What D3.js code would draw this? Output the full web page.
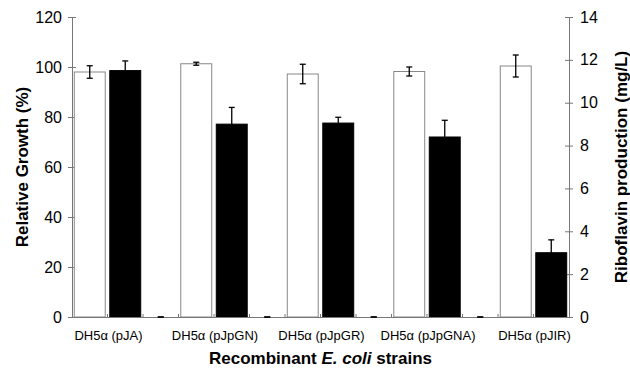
<!DOCTYPE html>
<html>
<head>
<meta charset="utf-8">
<script src="https://cdn.jsdelivr.net/npm/d3@7"></script>
<style>
  body { margin: 0; background: #fff; }
  svg { display: block; font-family: "Liberation Sans", Arial, sans-serif; }
</style>
</head>
<body>
<div id="chart"></div>
<script>
// strains on the x axis
const strains = ["DH5\u03b1 (pJA)", "DH5\u03b1 (pJpGN)", "DH5\u03b1 (pJpGR)", "DH5\u03b1 (pJpGNA)", "DH5\u03b1 (pJIR)"];
// relative growth (%), left axis, white bars
const growth    = [98.0, 101.3, 97.2, 98.2, 100.4];
const growthErr = [2.5, 0.6, 3.9, 1.8, 4.4];
// riboflavin production (mg/L), right axis, black bars
const ribo      = [11.5, 9.0, 9.05, 8.4, 3.0];
const riboErr   = [0.45, 0.78, 0.27, 0.78, 0.6];
const leftTicks  = [0, 20, 40, 60, 80, 100, 120];
const rightTicks = [0, 2, 4, 6, 8, 10, 12, 14];

const W = 630, H = 376;
const m = {top: 17, right: 61, bottom: 59, left: 72};
const innerW = W - m.left - m.right;
const innerH = H - m.top - m.bottom;

const svg = d3.select("#chart").append("svg")
  .attr("width", W).attr("height", H);
const g = svg.append("g").attr("transform", `translate(${m.left},${m.top})`);

// every bar gets its own slot, with an empty slot between strains (like the excel sheet)
const slots = [];
strains.forEach((s, i) => {
  slots.push({key: s + "|g", kind: "growth", i});
  slots.push({key: s + "|r", kind: "ribo", i});
  if (i < strains.length - 1) slots.push({key: s + "|gap", kind: "gap", i});
});

const x = d3.scaleBand().domain(slots.map(d => d.key)).range([0, innerW]).paddingInner(0.1).paddingOuter(0.05);
const yL = d3.scaleLinear().domain([0, 120]).range([innerH, 0]);
const yR = d3.scaleLinear().domain([0, 14]).range([innerH, 0]);
const axisCol = "#777";

// left axis
const ax = g.append("g")
  .call(d3.axisLeft(yL).tickValues(leftTicks).tickSizeInner(4).tickSizeOuter(0).tickPadding(6));
ax.select(".domain").attr("stroke", axisCol);
ax.selectAll(".tick line").attr("stroke", axisCol).attr("x2", 4).attr("x1", -4);
ax.selectAll(".tick text").attr("font-size", 16).attr("fill", "#000").attr("font-family", "Liberation Sans, Arial, sans-serif");

// right axis
const ar = g.append("g").attr("transform", `translate(${innerW},0)`)
  .call(d3.axisRight(yR).tickValues(rightTicks).tickSizeInner(4).tickSizeOuter(0).tickPadding(7));
ar.select(".domain").attr("stroke", axisCol);
ar.selectAll(".tick line").attr("stroke", axisCol).attr("x1", -4).attr("x2", 4);
ar.selectAll(".tick text").attr("font-size", 16).attr("fill", "#000").attr("font-family", "Liberation Sans, Arial, sans-serif");

// bars
const yOf = d => d.kind === "growth" ? yL(growth[d.i]) : d.kind === "ribo" ? yR(ribo[d.i]) : innerH;
g.selectAll("rect.bar").data(slots.filter(d => d.kind !== "gap")).enter()
  .append("rect")
    .attr("class", "bar")
    .attr("x", d => x(d.key) + 0.5)
    .attr("width", x.bandwidth() - 1)
    .attr("y", d => yOf(d))
    .attr("height", d => innerH - yOf(d))
    .attr("fill", d => d.kind === "growth" ? "#fff" : "#000")
    .attr("stroke", d => d.kind === "growth" ? "#888" : "#000")
    .attr("stroke-width", 1);

// x baseline + small slot ticks
g.append("line").attr("x1", 0).attr("x2", innerW).attr("y1", innerH + 0.5).attr("y2", innerH + 0.5)
  .attr("stroke", axisCol);
g.selectAll("line.xt").data(slots.slice(1)).enter().append("line")
  .attr("class", "xt")
  .attr("x1", d => x(d.key) - x.step() * x.paddingInner() / 2)
  .attr("x2", d => x(d.key) - x.step() * x.paddingInner() / 2)
  .attr("y1", innerH - 3).attr("y2", innerH)
  .attr("stroke", axisCol);

// error bars
const errs = [];
slots.forEach(d => {
  if (d.kind === "growth") errs.push({cx: x(d.key) + x.bandwidth() / 2, lo: yL(growth[d.i] - growthErr[d.i]), hi: yL(growth[d.i] + growthErr[d.i])});
  if (d.kind === "ribo") errs.push({cx: x(d.key) + x.bandwidth() / 2, lo: yR(ribo[d.i] - riboErr[d.i]), hi: yR(ribo[d.i] + riboErr[d.i])});
  if (d.kind === "gap") errs.push({cx: x(d.key) + x.bandwidth() / 2, lo: yL(0), hi: yL(0)});
});
const eg = g.selectAll("g.err").data(errs).enter().append("g").attr("class", "err")
  .attr("stroke", "#000").attr("stroke-width", 1.3);
eg.append("line").attr("x1", d => d.cx).attr("x2", d => d.cx).attr("y1", d => d.lo).attr("y2", d => d.hi);
eg.append("line").attr("x1", d => d.cx - 3).attr("x2", d => d.cx + 3).attr("y1", d => d.hi).attr("y2", d => d.hi);
eg.append("line").attr("x1", d => d.cx - 3).attr("x2", d => d.cx + 3).attr("y1", d => d.lo).attr("y2", d => d.lo);

// strain labels under each pair
g.selectAll("text.cat").data(strains).enter().append("text")
  .attr("class", "cat")
  .attr("x", (s, i) => (x(s + "|g") + x(s + "|r") + x.bandwidth()) / 2 + 1)
  .attr("y", innerH + 23)
  .attr("text-anchor", "middle")
  .attr("font-size", 13)
  .text(s => s);

// axis titles
svg.append("text")
  .attr("transform", `translate(28,${m.top + innerH / 2}) rotate(-90)`)
  .attr("text-anchor", "middle").attr("font-size", 17).attr("font-weight", "bold")
  .text("Relative Growth (%)");
svg.append("text")
  .attr("transform", `translate(627,${m.top + innerH / 2}) rotate(-90)`)
  .attr("text-anchor", "middle").attr("font-size", 17).attr("font-weight", "bold")
  .text("Riboflavin production (mg/L)");
const xt = svg.append("text")
  .attr("x", 0).attr("y", 364)
  .attr("font-size", 17).attr("font-weight", "bold");
xt.append("tspan").text("Recombinant ");
xt.append("tspan").attr("font-style", "italic").text("E. coli");
xt.append("tspan").text(" strains");
// centre it under the plot by its measured width
const xtW = xt.node().getBBox().width;
xt.attr("x", m.left + innerW / 2 - xtW / 2);
</script>
</body>
</html>
